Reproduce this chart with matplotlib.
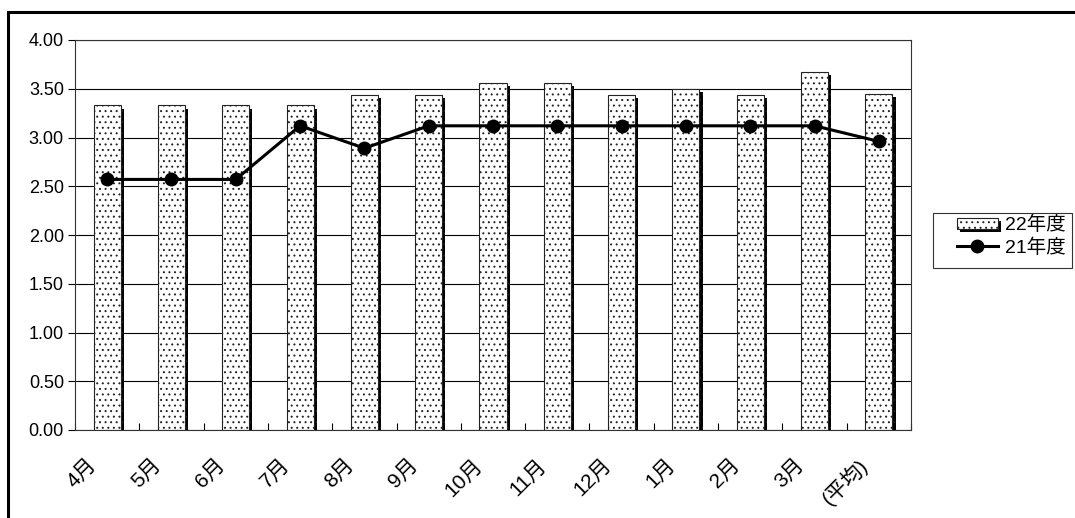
import matplotlib
matplotlib.use("Agg")
import matplotlib.pyplot as plt
import matplotlib.patheffects as pe
import matplotlib.transforms as mtransforms
from matplotlib.patches import Rectangle
import numpy as np

plt.rcParams["font.family"] = ["Liberation Sans", "Noto Sans CJK JP", "DejaVu Sans"]
plt.rcParams["hatch.linewidth"] = 0.7
plt.rcParams["hatch.color"] = "#333333"

months = ["4月", "5月", "6月", "7月", "8月", "9月", "10月", "11月", "12月",
          "1月", "2月", "3月", "(平均)"]
fy22 = [3.33, 3.33, 3.33, 3.33, 3.44, 3.44, 3.56, 3.56, 3.44, 3.50, 3.44, 3.67, 3.45]
fy21 = [2.57, 2.57, 2.57, 3.12, 2.89, 3.12, 3.12, 3.12, 3.12, 3.12, 3.12, 3.12, 2.96]

fig = plt.figure(figsize=(10.75, 5.18), dpi=100)
ax = fig.add_axes([75 / 1075, 1 - 430 / 518, 836 / 1075, 390 / 518])

x = np.arange(len(months))
shadow = [pe.SimplePatchShadow(offset=(2.3, -2.3), shadow_rgbFace="black", alpha=1.0),
          pe.Normal()]
bars = ax.bar(x, fy22, width=0.42, color="white", edgecolor="#222222", linewidth=0.8,
              hatch="...", label="22年度", zorder=2)
for b in bars:
    b.set_path_effects(shadow)
line, = ax.plot(x, fy21, color="black", linewidth=2.2, marker="o", markersize=9,
                label="21年度", zorder=3)

ax.set_xlim(-0.5, len(months) - 0.5)
ax.set_ylim(0, 4)
yt = np.arange(0, 4.01, 0.5)
ax.set_yticks(yt)
ax.set_yticklabels([f"{v:.2f}" for v in yt], fontsize=13)
ax.yaxis.grid(True, color="black", linewidth=0.8)
ax.set_axisbelow(True)
ax.tick_params(axis="y", length=5, width=0.8, direction="out", pad=3)

# month labels drawn by hand so they can sit left of the tick like the original
ax.set_xticks([])
ax.set_xticks(np.arange(-0.5, len(months), 1.0), minor=True)
ax.tick_params(axis="x", which="minor", length=5, width=0.8, direction="in")
shift = mtransforms.ScaledTranslation(-0.14, -0.32, fig.dpi_scale_trans)
for xi, m in zip(x, months):
    ax.text(xi, 0, m, transform=ax.get_xaxis_transform() + shift, rotation=45,
            ha="right", va="center", rotation_mode="anchor", fontsize=15)

for s in ax.spines.values():
    s.set_linewidth(0.8)
    s.set_color("#333333")

leg = ax.legend([bars, line], ["22年度", "21年度"], loc="upper left",
                bbox_to_anchor=(955 / 1075, 1 - 214 / 518),
                bbox_transform=fig.transFigure, fontsize=14, frameon=False,
                borderpad=0.1, borderaxespad=0, handlelength=2.1,
                handleheight=0.5, handletextpad=0.35, labelspacing=0.2)
fig.patches.append(Rectangle((933 / 1075, 1 - 268 / 518), 139 / 1075, 55 / 518,
                             transform=fig.transFigure, fill=False,
                             edgecolor="#333333", linewidth=0.8))

fig.patches.append(Rectangle((8 / 1075, -0.1), 1.2, 1 - 12 / 518 + 0.1,
                             transform=fig.transFigure, fill=False,
                             edgecolor="black", linewidth=2.2))

fig.savefig("out.png", dpi=100)
